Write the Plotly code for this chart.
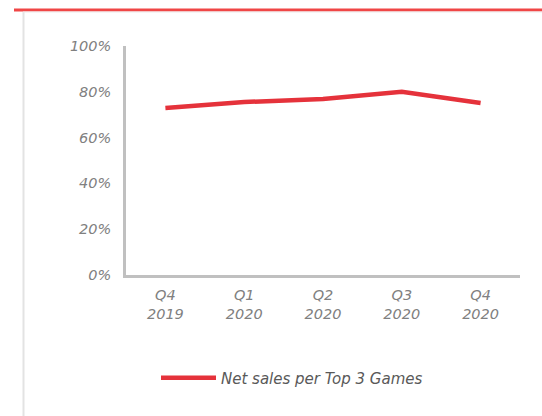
import plotly.graph_objects as go

categories = ["Q4<br>2019", "Q1<br>2020", "Q2<br>2020", "Q3<br>2020", "Q4<br>2020"]
net_sales_top3 = [72.9, 75.5, 76.9, 80.0, 75.1]
y_ticks = [0, 20, 40, 60, 80, 100]
y_tick_labels = ["0%", "20%", "40%", "60%", "80%", "100%"]
series_name = "Net sales per Top 3 Games"

L, R, T, B = 126, 22, 46, 141
W, H = 542, 416
pw = W - L - R
ph = H - T - B

def px(x):
    return (x - L) / pw

def py(y):
    return (H - B - y) / ph

fig = go.Figure()
fig.add_trace(go.Scatter(
    x=categories, y=net_sales_top3, mode="lines", name=series_name,
    line=dict(color="#e5323b", width=4.5),
    showlegend=True,
))

font = dict(family="DejaVu Sans, sans-serif", size=14.5, color="#808080", style="italic")

fig.update_layout(
    width=W, height=H,
    margin=dict(l=L, r=R, t=T, b=B),
    paper_bgcolor="white", plot_bgcolor="white",
    font=font,
    xaxis=dict(
        type="category", range=[-0.5, 4.5], showgrid=False, zeroline=False,
        showline=True, linecolor="#c0c0c0", linewidth=2.5,
        ticks="", tickfont=font, ticklabelstandoff=5,
    ),
    yaxis=dict(
        range=[0, 100], tickmode="array", tickvals=y_ticks, ticktext=y_tick_labels,
        showgrid=False, zeroline=False, showline=True, linecolor="#c0c0c0", linewidth=2.5,
        ticks="", tickfont=font, ticklabelstandoff=9,
    ),
    legend=dict(
        orientation="h", x=px(292), xanchor="center", y=py(378), yanchor="middle",
        font=dict(family="DejaVu Sans, sans-serif", size=15, color="#595959", style="italic"),
        itemwidth=55, bgcolor="rgba(0,0,0,0)",
    ),
    shapes=[
        dict(type="line", xref="paper", yref="paper", x0=px(14), x1=px(542),
             y0=py(10), y1=py(10), line=dict(color="#f04646", width=3)),
        dict(type="line", xref="paper", yref="paper", x0=px(23.5), x1=px(23.5),
             y0=py(12), y1=py(416), line=dict(color="#e3e3e3", width=2)),
        dict(type="line", xref="paper", yref="paper", x0=px(23), x1=px(542),
             y0=py(12), y1=py(12), line=dict(color="#ececec", width=1)),
    ],
)

fig.write_html("out.html")
